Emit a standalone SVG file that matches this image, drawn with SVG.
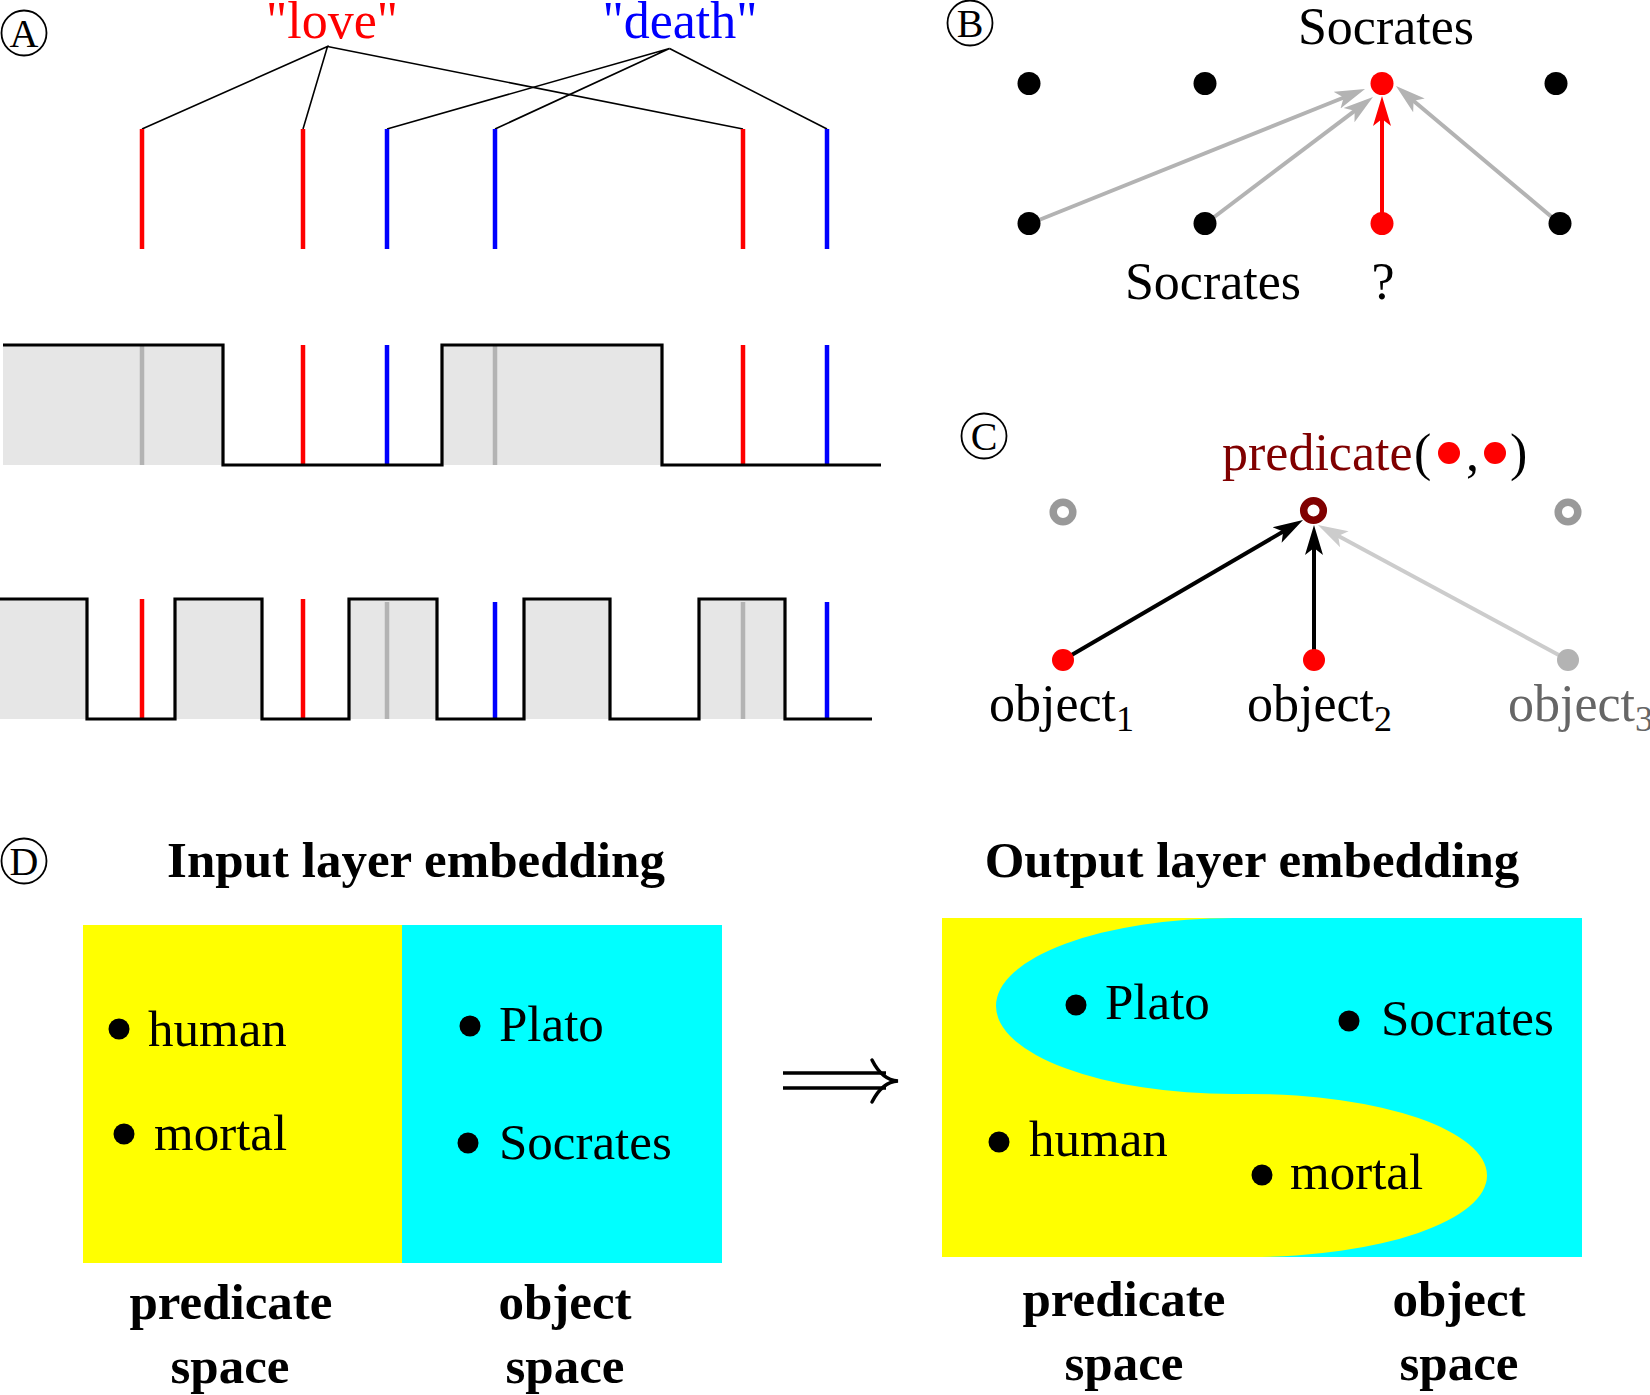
<svg xmlns="http://www.w3.org/2000/svg" width="1650" height="1395" viewBox="0 0 1650 1395">
<style>
text{font-family:"Liberation Serif","Times New Roman",serif;}
.t{font-size:52px;}
.td{font-size:51px;}
.b{font-size:51px;font-weight:bold;text-anchor:middle;}
.lab{font-size:40px;text-anchor:middle;}
.circ{fill:none;stroke:#000;stroke-width:1.8;}
.conn{stroke:#000;stroke-width:1.6;fill:none;}
.bar{stroke-width:4.5;}
.red{stroke:#ff0000;}
.blue{stroke:#0000ff;}
.gray{stroke:#b3b3b3;}
.wave{fill:none;stroke:#000;stroke-width:3.2;}
.fill{fill:#e6e6e6;}
.arr{stroke-width:4;fill:none;}
</style>
<defs>
<marker id="hg" viewBox="0 0 30 20" refX="22" refY="10" markerWidth="30" markerHeight="20" markerUnits="userSpaceOnUse" orient="auto"><path d="M30,10 L0,1 L7,10 L0,19 Z" fill="#b3b3b3"/></marker>
<marker id="hr" viewBox="0 0 30 20" refX="22" refY="10" markerWidth="30" markerHeight="20" markerUnits="userSpaceOnUse" orient="auto"><path d="M30,10 L0,1 L7,10 L0,19 Z" fill="#ff0000"/></marker>
<marker id="hk" viewBox="0 0 30 20" refX="22" refY="10" markerWidth="30" markerHeight="20" markerUnits="userSpaceOnUse" orient="auto"><path d="M30,10 L0,1 L7,10 L0,19 Z" fill="#000"/></marker>
<marker id="hl" viewBox="0 0 30 20" refX="22" refY="10" markerWidth="30" markerHeight="20" markerUnits="userSpaceOnUse" orient="auto"><path d="M30,10 L0,1 L7,10 L0,19 Z" fill="#cccccc"/></marker>
</defs>
<rect width="1650" height="1395" fill="#fff"/>

<!-- Panel A -->
<g id="panelA">
  <g id="labelA"><circle class="circ" cx="24" cy="33" r="22.5"/><text class="lab" x="24" y="47">A</text></g>
  <g id="word-love"><text class="t" x="332" y="38" fill="#ff0000" text-anchor="middle">"love"</text></g>
  <g id="word-death"><text class="t" x="680" y="38" fill="#0000ff" text-anchor="middle">"death"</text></g>
  <g id="connectorsA">
    <polyline class="conn" points="142,129 327.5,46.5 303,129"/>
    <line class="conn" x1="327.5" y1="46.5" x2="743" y2="129"/>
    <polyline class="conn" points="387,129 669.5,48.5 495,129"/>
    <line class="conn" x1="669.5" y1="48.5" x2="827" y2="129"/>
  </g>
  <g id="bars-top">
    <line class="bar red" x1="142" y1="129" x2="142" y2="249"/>
    <line class="bar red" x1="303" y1="129" x2="303" y2="249"/>
    <line class="bar blue" x1="387" y1="129" x2="387" y2="249"/>
    <line class="bar blue" x1="495" y1="129" x2="495" y2="249"/>
    <line class="bar red" x1="743" y1="129" x2="743" y2="249"/>
    <line class="bar blue" x1="827" y1="129" x2="827" y2="249"/>
  </g>
  <g id="wave-middle">
    <rect class="fill" x="3" y="345" width="220" height="120"/>
    <rect class="fill" x="442" y="345" width="220" height="120"/>
    <line class="bar gray" x1="142" y1="345" x2="142" y2="465"/>
    <line class="bar red" x1="303" y1="345" x2="303" y2="465"/>
    <line class="bar blue" x1="387" y1="345" x2="387" y2="465"/>
    <line class="bar gray" x1="495" y1="345" x2="495" y2="465"/>
    <line class="bar red" x1="743" y1="345" x2="743" y2="465"/>
    <line class="bar blue" x1="827" y1="345" x2="827" y2="465"/>
    <path class="wave" d="M3,345 H223 V465 H442 V345 H662 V465 H881"/>
  </g>
  <g id="wave-bottom">
    <rect class="fill" x="0" y="599" width="87" height="120"/>
    <rect class="fill" x="175" y="599" width="87" height="120"/>
    <rect class="fill" x="349" y="599" width="88" height="120"/>
    <rect class="fill" x="524" y="599" width="86" height="120"/>
    <rect class="fill" x="699" y="599" width="86" height="120"/>
    <line class="bar red" x1="142" y1="599" x2="142" y2="719"/>
    <line class="bar red" x1="303" y1="599" x2="303" y2="719"/>
    <line class="bar gray" x1="387" y1="602" x2="387" y2="719"/>
    <line class="bar blue" x1="495" y1="602" x2="495" y2="719"/>
    <line class="bar gray" x1="743" y1="602" x2="743" y2="719"/>
    <line class="bar blue" x1="827" y1="602" x2="827" y2="719"/>
    <path class="wave" d="M0,599 H87 V719 H175 V599 H262 V719 H349 V599 H437 V719 H524 V599 H610 V719 H699 V599 H785 V719 H872"/>
  </g>
</g>

<!-- Panel B -->
<g id="panelB">
  <g id="labelB"><circle class="circ" cx="970" cy="23" r="22.5"/><text class="lab" x="970" y="37">B</text></g>
  <g id="connectorsB">
    <line class="arr" stroke="#b3b3b3" x1="1029" y1="224" x2="1357.6" y2="92" marker-end="url(#hg)"/>
    <line class="arr" stroke="#b3b3b3" x1="1205" y1="224" x2="1366.6" y2="101.8" marker-end="url(#hg)"/>
    <line class="arr" stroke="#b3b3b3" x1="1560" y1="224" x2="1402.1" y2="91.2" marker-end="url(#hg)"/>
    <line class="arr" stroke="#ff0000" x1="1382" y1="224" x2="1382" y2="104" marker-end="url(#hr)"/>
  </g>
  <g id="b-top1"><circle cx="1029" cy="83.5" r="11.5" fill="#000"/></g>
  <g id="b-top2"><circle cx="1205" cy="83.5" r="11.5" fill="#000"/></g>
  <g id="b-top3"><circle cx="1382" cy="83.5" r="11.5" fill="#ff0000"/><text class="t" x="1386" y="44" text-anchor="middle">Socrates</text></g>
  <g id="b-top4"><circle cx="1556" cy="83.5" r="11.5" fill="#000"/></g>
  <g id="b-bot1"><circle cx="1029" cy="223.5" r="11.5" fill="#000"/></g>
  <g id="b-bot2"><circle cx="1205" cy="223.5" r="11.5" fill="#000"/><text class="t" x="1213" y="299" text-anchor="middle">Socrates</text></g>
  <g id="b-bot3"><circle cx="1382" cy="223.5" r="11.5" fill="#ff0000"/><text class="t" x="1383" y="299" text-anchor="middle">?</text></g>
  <g id="b-bot4"><circle cx="1560" cy="223.5" r="11.5" fill="#000"/></g>
</g>

<!-- Panel C -->
<g id="panelC">
  <g id="labelC"><circle class="circ" cx="984" cy="436" r="22.5"/><text class="lab" x="984" y="450">C</text></g>
  <g id="connectorsC">
    <line class="arr" stroke="#000" x1="1063" y1="660" x2="1296.1" y2="524" marker-end="url(#hk)"/>
    <line class="arr" stroke="#000" x1="1314" y1="660" x2="1314" y2="533" marker-end="url(#hk)"/>
    <line class="arr" stroke="#cccccc" x1="1568" y1="660" x2="1325" y2="528.8" marker-end="url(#hl)"/>
  </g>
  <g id="c-top1"><circle cx="1063" cy="512" r="9.8" fill="#fff" stroke="#999999" stroke-width="7.5"/></g>
  <g id="c-pred">
    <circle cx="1313.5" cy="510.5" r="9.8" fill="#fff" stroke="#800000" stroke-width="7.5"/>
    <text class="t" x="1222" y="470" fill="#800000">predicate</text>
    <text class="t" x="1414" y="470">(</text>
    <circle cx="1449" cy="453" r="11" fill="#ff0000"/>
    <text class="t" x="1466" y="470">,</text>
    <circle cx="1495" cy="453" r="11" fill="#ff0000"/>
    <text class="t" x="1510" y="470">)</text>
  </g>
  <g id="c-top3"><circle cx="1568" cy="512" r="9.8" fill="#fff" stroke="#999999" stroke-width="7.5"/></g>
  <g id="c-obj1"><circle cx="1063" cy="660" r="11" fill="#ff0000"/><text class="t" x="989" y="721">object<tspan font-size="36" dy="10">1</tspan></text></g>
  <g id="c-obj2"><circle cx="1314" cy="660" r="11" fill="#ff0000"/><text class="t" x="1247" y="721">object<tspan font-size="36" dy="10">2</tspan></text></g>
  <g id="c-obj3"><circle cx="1568" cy="660" r="11" fill="#b3b3b3"/><text class="t" x="1508" y="721" fill="#666666">object<tspan font-size="36" dy="10">3</tspan></text></g>
</g>

<!-- Panel D -->
<g id="panelD">
  <g id="labelD"><circle class="circ" cx="24" cy="861" r="22.5"/><text class="lab" x="24" y="875">D</text></g>
  <g id="titleIn"><text class="b" x="416" y="877">Input layer embedding</text></g>
  <g id="titleOut"><text class="b" x="1252" y="877">Output layer embedding</text></g>
  <g id="input-embedding">
    <rect x="83" y="925" width="320" height="338" fill="#ffff00"/>
    <rect x="402" y="925" width="320" height="338" fill="#00ffff"/>
    <circle cx="119" cy="1029" r="10.5" fill="#000"/><text class="td" x="148" y="1046">human</text>
    <circle cx="124" cy="1134" r="10.5" fill="#000"/><text class="td" x="154" y="1150">mortal</text>
    <circle cx="470" cy="1026" r="10.5" fill="#000"/><text class="td" x="499" y="1041">Plato</text>
    <circle cx="468" cy="1143" r="10.5" fill="#000"/><text class="td" x="499" y="1159">Socrates</text>
  </g>
  <g id="implies">
    <path d="M783,1073 H886 M783,1088 H886" fill="none" stroke="#000" stroke-width="3.5"/>
    <path d="M872,1060 Q882,1080 898,1081 Q882,1082 872,1102" fill="none" stroke="#000" stroke-width="3.5" stroke-linecap="round"/>
  </g>
  <g id="output-embedding">
    <rect x="942" y="918" width="640" height="339" fill="#00ffff"/>
    <path d="M942,918 H1233 A237,88 0 0 0 1233,1094 H1250 A237,81.5 0 0 1 1250,1257 H942 Z" fill="#ffff00"/>
    <circle cx="1076" cy="1005" r="10.5" fill="#000"/><text class="td" x="1105" y="1019">Plato</text>
    <circle cx="1349" cy="1021" r="10.5" fill="#000"/><text class="td" x="1381" y="1035">Socrates</text>
    <circle cx="999" cy="1142" r="10.5" fill="#000"/><text class="td" x="1029" y="1156">human</text>
    <circle cx="1262" cy="1175" r="10.5" fill="#000"/><text class="td" x="1290" y="1189">mortal</text>
  </g>
  <g id="axis-labels">
    <text class="b" x="231" y="1319">predicate</text>
    <text class="b" x="230" y="1383">space</text>
    <text class="b" x="565" y="1319">object</text>
    <text class="b" x="565" y="1383">space</text>
    <text class="b" x="1124" y="1316">predicate</text>
    <text class="b" x="1124" y="1380">space</text>
    <text class="b" x="1459" y="1316">object</text>
    <text class="b" x="1459" y="1380">space</text>
  </g>
</g>
</svg>
